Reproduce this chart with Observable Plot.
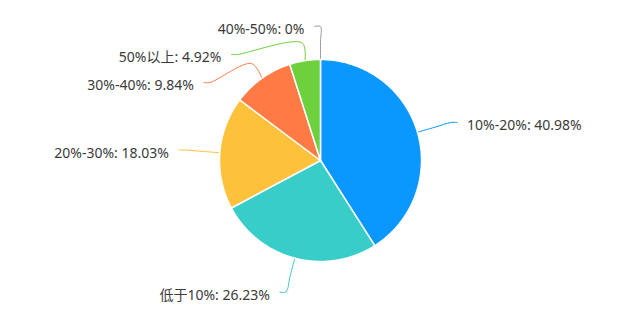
<!DOCTYPE html>
<html><head><meta charset="utf-8">
<script src="https://cdn.jsdelivr.net/npm/d3@7"></script>
<script src="https://cdn.jsdelivr.net/npm/@observablehq/plot@0.6"></script>
<style>body{margin:0;background:#fff}</style>
</head><body><div id="chart"></div>
<script>
// ---- data ----
const categories = ["10%-20%", "低于10%", "20%-30%", "30%-40%", "50%以上", "40%-50%"];
const values = [40.98, 26.23, 18.03, 9.84, 4.92, 0];
const colors = ["#0A98FF", "#38CDC8", "#FDC13C", "#FF7A45", "#6DD13E", "#9A9A9A"];

// ---- layout ----
const W = 640, H = 320, cx = 320, cy = 160, r = 101, R = 136;
const bendLen = 18, tail = 6, gap = 10, spacing = 28, minY = 26, maxY = H - 14;

const data = categories.map((c, i) => ({cat: c, value: values[i]}));
const arcs = d3.pie().sort(null).value(d => d.value).startAngle(0).endAngle(2 * Math.PI)(data);
const pt = (a, rho) => [cx + rho * Math.sin(a), cy - rho * Math.cos(a)];

// slice polygons
const slicePts = [];
arcs.forEach(a => {
  if (a.endAngle - a.startAngle <= 0) return;
  const n = Math.max(2, Math.ceil((a.endAngle - a.startAngle) / 0.01));
  slicePts.push({cat: a.data.cat, x: cx, y: cy});
  for (let k = 0; k <= n; k++) {
    const t = a.startAngle + (a.endAngle - a.startAngle) * k / n;
    const [x, y] = pt(t, r);
    slicePts.push({cat: a.data.cat, x, y});
  }
  slicePts.push({cat: a.data.cat, x: cx, y: cy});
});

// label layout (side, vertical spreading, ellipse alignment)
const labels = arcs.map(a => {
  const m = (a.startAngle + a.endAngle) / 2;
  const dir = m < Math.PI ? 1 : -1;
  const [nx, ny] = pt(m, R);
  return {cat: a.data.cat, value: a.data.value, m, dir, natDx: Math.abs(nx - cx), natY: ny,
          label: `${a.data.cat}: ${a.data.value}%`};
});
[1, -1].forEach(dir => {
  const side = labels.filter(l => l.dir === dir).sort((a, b) => a.natY - b.natY || a.m - b.m);
  side.forEach((l, i) => {
    l.ly = i === 0 ? Math.max(l.natY, minY) : Math.max(l.natY, side[i - 1].ly + spacing);
  });
  for (let i = side.length - 1; i >= 0; i--) {
    const lim = i === side.length - 1 ? maxY : side[i + 1].ly - spacing;
    side[i].ly = Math.min(side[i].ly, lim);
  }
  [true, false].forEach(top => {
    const semi = side.filter(l => (l.ly < cy) === top);
    if (!semi.length) return;
    const far = semi.reduce((a, b) => Math.abs(b.ly - cy) > Math.abs(a.ly - cy) ? b : a);
    const fdy = Math.abs(far.ly - cy);
    const rB = far.natDx < R ? fdy / Math.sqrt(1 - (far.natDx * far.natDx) / (R * R)) : R;
    semi.forEach(l => {
      const dy = l.ly - cy;
      l.ex = cx + dir * R * Math.sqrt(Math.max(0, 1 - (dy * dy) / (rB * rB)));
    });
  });
});
const linePts = [];
labels.forEach(l => {
  const [x0, y0] = pt(l.m, r);
  const [x1, y1] = pt(l.m, r + bendLen);
  linePts.push({cat: l.cat, x: x0, y: y0}, {cat: l.cat, x: x1, y: y1},
               {cat: l.cat, x: l.ex, y: l.ly}, {cat: l.cat, x: l.ex + l.dir * tail, y: l.ly});
  l.tx = l.ex + l.dir * (tail + gap);
  l.ty = l.ly;
});

const font = '"Noto Sans", "Noto Sans CJK SC", sans-serif';
const chart = Plot.plot({
  width: W, height: H,
  margin: 0,
  x: {domain: [0, W], range: [0, W], axis: null},
  y: {domain: [0, H], range: [0, H], axis: null},
  color: {domain: categories, range: colors},
  style: {fontFamily: font, background: "#fff"},
  marks: [
    Plot.line(linePts, {x: "x", y: "y", z: "cat", stroke: "cat", strokeWidth: 1, curve: "catmull-rom"}),
    Plot.line(slicePts, {x: "x", y: "y", z: "cat", fill: "cat", stroke: "white", strokeWidth: 1.5, strokeLinejoin: "round"}),
    Plot.text(labels.filter(l => l.dir === 1), {x: "tx", y: "ty", text: "label", textAnchor: "start", fill: "#3a3a3a", fontSize: 14, dy: 3, fontFamily: font}),
    Plot.text(labels.filter(l => l.dir === -1), {x: "tx", y: "ty", text: "label", textAnchor: "end", fill: "#3a3a3a", fontSize: 14, dy: 3, fontFamily: font})
  ]
});
document.getElementById("chart").appendChild(chart);
</script>
</body></html>
